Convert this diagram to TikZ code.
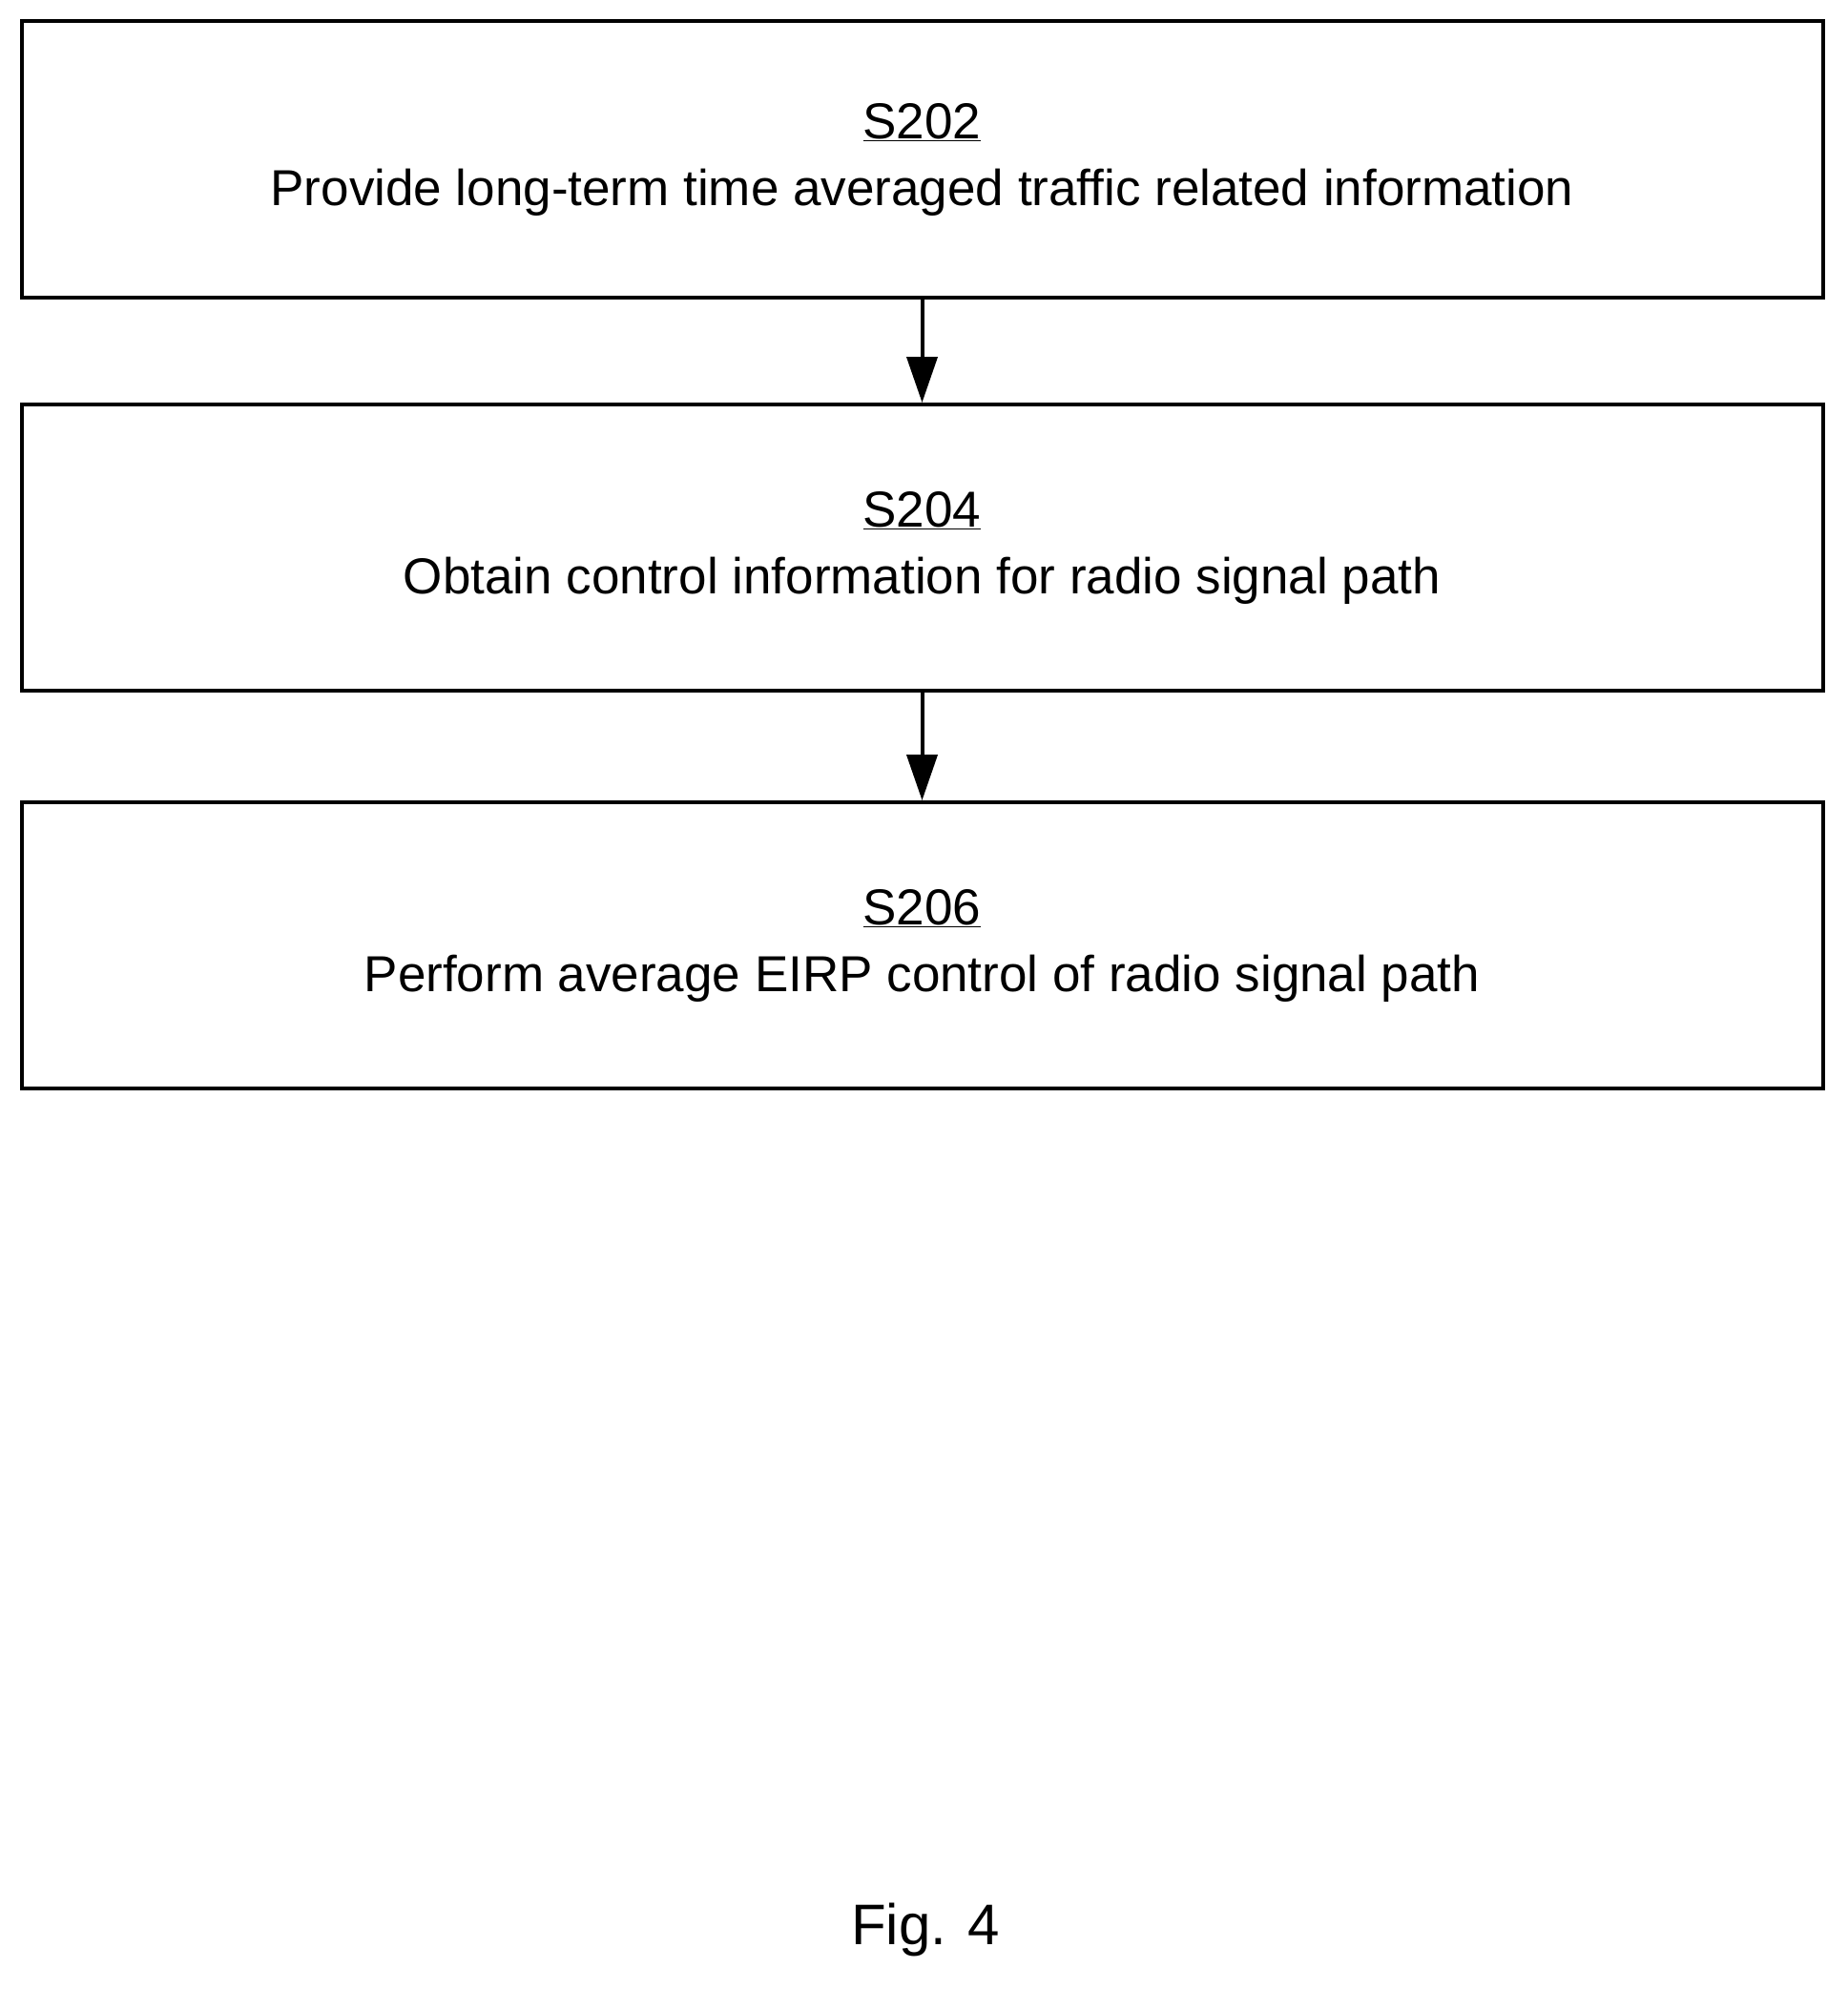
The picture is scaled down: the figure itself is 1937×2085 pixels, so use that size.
\documentclass[tikz,border=0pt]{standalone}
\usepackage{fontspec}
\setmainfont{Liberation Sans}
\usetikzlibrary{arrows.meta}
\begin{document}
\begin{tikzpicture}[x=1pt,y=-1pt,
  box/.style={draw,line width=4pt,minimum width=1888pt,minimum height=292pt,align=center,font=\fontsize{53}{70}\selectfont,inner sep=0pt},
  arr/.style={line width=4pt,-{Triangle[length=48pt,width=32pt]}}]
\useasboundingbox (0,0) rectangle (1937,2085);
\node[box,minimum height=290pt] (s1) at (966.5,167) {\underline{S202}\\Provide long-term time averaged traffic related information};
\node[box,minimum height=300pt] (s2) at (966.5,574) {\underline{S204}\\Obtain control information for radio signal path};
\node[box,minimum height=300pt] (s3) at (966.5,991) {\underline{S206}\\Perform average EIRP control of radio signal path};
\draw[arr] (s1) -- (s2);
\draw[arr] (s2) -- (s3);
\node[font=\fontsize{60}{70}\selectfont] (fig) at (970,2023) {Fig. 4};
\end{tikzpicture}
\end{document}
